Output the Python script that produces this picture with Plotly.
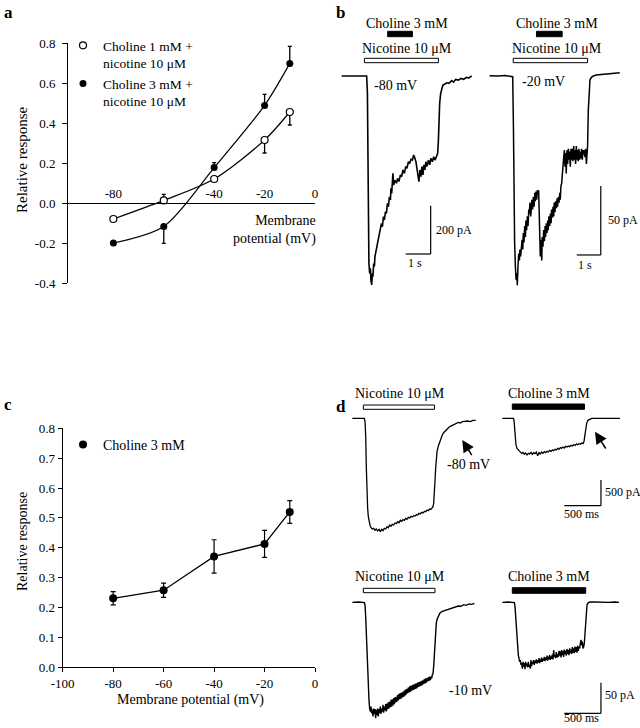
import plotly.graph_objects as go

FONT = "Liberation Serif"
W, H = 640, 728


def PX(x):
    return x / W


def PY(y):
    return 1 - y / H


# ---------------- Panel a data ----------------
a_mv = [-80, -60, -40, -20, -10]
a_cho1 = [-0.08, 0.013, 0.12, 0.315, 0.455]
a_cho1_err_plus = [0, 0.03, 0, 0, 0]
a_cho1_err_minus = [0, 0, 0, 0.065, 0.065]
a_cho3 = [-0.2, -0.117, 0.177, 0.488, 0.698]
a_cho3_err_plus = [0, 0, 0.025, 0.055, 0.085]
a_cho3_err_minus = [0, 0.085, 0, 0, 0]
a_xticks = [-80, -40, -20, 0]
a_xticklabels = ["-80", "-40", "-20", "0"]
a_yticks = [-0.4, -0.2, 0.0, 0.2, 0.4, 0.6, 0.8]
a_yticklabels = ["-0.4", "-0.2", "0.0", "0.2", "0.4", "0.6", "0.8"]
a_names = ["Choline 1 mM +<br>nicotine 10 μM", "Choline 3 mM +<br>nicotine 10 μM"]

# ---------------- Panel c data ----------------
c_mv = [-80, -60, -40, -20, -10]
c_resp = [0.231, 0.258, 0.371, 0.413, 0.52]
c_err = [0.022, 0.024, 0.056, 0.045, 0.038]
c_xticks = [-100, -80, -60, -40, -20, 0]
c_xticklabels = ["-100", "-80", "-60", "-40", "-20", "0"]
c_yticks = [0.0, 0.1, 0.2, 0.3, 0.4, 0.5, 0.6, 0.7, 0.8]
c_yticklabels = ["0.0", "0.1", "0.2", "0.3", "0.4", "0.5", "0.6", "0.7", "0.8"]

# ---------------- Panel b traces (time s, current pA) ----------------
b80_t = [0, 1.0, 1.03, 1.05, 1.08, 1.09, 1.12, 1.15, 1.17, 1.2,
         1.23, 1.25, 1.28, 1.31, 1.33, 1.37, 1.41, 1.47, 1.51, 1.55,
         1.59, 1.63, 1.67, 1.71, 1.75, 1.79, 1.83, 1.87, 1.91, 1.95,
         1.97, 2.0, 2.03, 2.05, 2.08, 2.13, 2.19, 2.24, 2.29, 2.35,
         2.4, 2.45, 2.51, 2.56, 2.61, 2.67, 2.72, 2.77, 2.83, 2.88,
         2.93, 2.97, 3.01, 3.05, 3.09, 3.13, 3.17, 3.21, 3.25, 3.29,
         3.33, 3.37, 3.41, 3.47, 3.52, 3.57, 3.63, 3.68, 3.73, 3.79,
         3.84, 3.87, 3.89, 3.92, 3.96, 4.0, 4.05, 4.13, 4.21, 4.29,
         4.4, 4.48, 4.56, 4.67, 4.77, 4.88, 4.99, 5.09, 5.2]
b80_i = [0, 0, -72, -348, -624, -776, -817, -796, -845, -865,
         -817, -831, -776, -789, -748, -727, -707, -679, -651, -638,
         -610, -624, -582, -596, -562, -569, -527, -541, -500, -513,
         -465, -486, -417, -403, -451, -431, -444, -424, -437, -410,
         -417, -389, -403, -375, -382, -355, -362, -345, -348, -327,
         -341, -355, -382, -403, -437, -389, -417, -375, -410, -368,
         -389, -355, -375, -348, -368, -341, -355, -334, -348, -334,
         -320, -265, -182, -113, -72, -51, -37, -33, -28, -30,
         -19, -25, -14, -17, -10, -14, -6, -8, 0]

b20_t = [0, 0.35, 0.63, 0.9, 0.96, 0.99, 1.01, 1.04, 1.07, 1.10,
         1.13, 1.15, 1.18, 1.21, 1.24, 1.26, 1.29, 1.32, 1.35, 1.38,
         1.40, 1.43, 1.46, 1.49, 1.51, 1.54, 1.57, 1.60, 1.63, 1.65,
         1.68, 1.71, 1.74, 1.76, 1.79, 1.82, 1.85, 1.88, 1.90, 1.93,
         1.96, 1.99, 2.01, 2.04, 2.06, 2.08, 2.11, 2.14, 2.17, 2.19,
         2.22, 2.25, 2.28, 2.31, 2.33, 2.36, 2.39, 2.42, 2.44, 2.47,
         2.50, 2.53, 2.56, 2.58, 2.61, 2.64, 2.67, 2.69, 2.72, 2.75,
         2.78, 2.81, 2.83, 2.86, 2.89, 2.92, 2.94, 2.97, 3.00, 3.03,
         3.06, 3.08, 3.11, 3.14, 3.17, 3.19, 3.22, 3.25, 3.28, 3.31,
         3.33, 3.36, 3.39, 3.42, 3.44, 3.47, 3.50, 3.53, 3.56, 3.58,
         3.61, 3.64, 3.67, 3.69, 3.72, 3.75, 3.78, 3.81, 3.83, 3.86,
         3.89, 3.92, 3.94, 3.97, 4.00, 4.03, 4.06, 4.08, 4.11, 4.14,
         4.18, 4.24, 4.32, 4.44, 4.58, 4.72, 4.86, 5.0, 5.14, 5.28,
         5.42]
b20_i = [0, -0.2, 0.2, -0.2, -0.7, -37, -85, -121, -138, -148,
         -143, -152, -138, -129, -134, -126, -131, -124, -119, -126,
         -114, -121, -109, -117, -105, -112, -102, -109, -97, -100,
         -92, -102, -95, -90, -97, -88, -95, -85, -91, -84,
         -90, -83, -85, -83, -97, -124, -131, -119, -134, -117,
         -124, -112, -120, -109, -117, -107, -114, -105, -112, -102,
         -109, -100, -107, -97, -103, -95, -102, -92, -99, -91,
         -96, -89, -95, -88, -92, -85, -90, -80, -78, -71,
         -66, -61, -54, -66, -56, -71, -54, -64, -53, -61,
         -55, -66, -53, -61, -53, -62, -51, -61, -54, -64,
         -51, -61, -54, -62, -53, -61, -55, -60, -53, -61,
         -54, -57, -54, -59, -53, -64, -57, -51, -25, -8,
         -3, -1.2, -0.2, 0.5, 0.7, 1.0, 1.2, 1.4, 1.7, 1.9,
         2.2]

# ---------------- Panel d traces (time s, current pA) ----------------
dn80_t = [0, 0.164, 0.173, 0.182, 0.191, 0.2, 0.209, 0.218, 0.227, 0.241,
          0.255, 0.273, 0.291, 0.309, 0.327, 0.345, 0.364, 0.382, 0.4, 0.418,
          0.436, 0.455, 0.473, 0.491, 0.509, 0.527, 0.545, 0.564, 0.582, 0.6,
          0.618, 0.636, 0.655, 0.673, 0.691, 0.709, 0.727, 0.745, 0.764, 0.782,
          0.8, 0.818, 0.836, 0.855, 0.873, 0.891, 0.909, 0.927, 0.945, 0.964,
          0.982, 1.0, 1.018, 1.036, 1.055, 1.073, 1.091, 1.1, 1.109, 1.118,
          1.127, 1.136, 1.145, 1.155, 1.173, 1.191, 1.209, 1.227, 1.245, 1.264,
          1.282, 1.3, 1.318, 1.336, 1.355, 1.373, 1.391, 1.409, 1.427, 1.445,
          1.473, 1.5, 1.536, 1.573, 1.609, 1.645, 1.682]
dn80_i = [0, 0, -65, -325, -975, -1495, -1755, -1918, -2015, -2080,
          -2132, -2158, -2145, -2184, -2158, -2197, -2165, -2210, -2165, -2191,
          -2145, -2158, -2113, -2132, -2080, -2106, -2067, -2080, -2041, -2054,
          -2015, -2035, -1989, -2009, -1976, -1989, -1950, -1970, -1931, -1944,
          -1911, -1924, -1898, -1905, -1879, -1885, -1853, -1866, -1833, -1846,
          -1814, -1820, -1788, -1801, -1768, -1775, -1742, -1723, -1658, -1495,
          -1235, -975, -780, -650, -540, -455, -390, -325, -280, -247,
          -221, -195, -176, -156, -143, -130, -104, -98, -91, -78,
          -91, -65, -59, -52, -65, -39, -39]

dc80_t = [0, 0.15, 0.159, 0.168, 0.177, 0.186, 0.2, 0.218, 0.241, 0.264,
          0.282, 0.3, 0.318, 0.336, 0.355, 0.373, 0.391, 0.409, 0.427, 0.445,
          0.464, 0.482, 0.5, 0.518, 0.536, 0.555, 0.573, 0.591, 0.609, 0.627,
          0.645, 0.664, 0.682, 0.7, 0.718, 0.736, 0.755, 0.773, 0.791, 0.809,
          0.827, 0.845, 0.864, 0.882, 0.9, 0.918, 0.936, 0.955, 0.973, 0.991,
          1.009, 1.027, 1.045, 1.064, 1.082, 1.1, 1.114, 1.123, 1.136, 1.15,
          1.168, 1.191, 1.218, 1.605]
dc80_i = [0, 0, -33, -195, -390, -520, -585, -624, -650, -683,
          -663, -702, -676, -715, -683, -696, -663, -702, -670, -689,
          -657, -728, -670, -696, -657, -683, -650, -670, -644, -657,
          -624, -644, -618, -631, -605, -618, -585, -605, -572, -585,
          -559, -579, -546, -559, -540, -553, -527, -540, -514, -527,
          -501, -514, -494, -507, -481, -494, -455, -358, -195, -98,
          -39, -13, 0, 0]

dn10_t = [0, 0.082, 0.164, 0.173, 0.182, 0.191, 0.2, 0.209, 0.218, 0.227,
          0.236, 0.245, 0.255, 0.264, 0.273, 0.282, 0.291, 0.3, 0.309, 0.318,
          0.327, 0.336, 0.345, 0.355, 0.364, 0.373, 0.382, 0.391, 0.4, 0.409,
          0.418, 0.427, 0.436, 0.445, 0.455, 0.464, 0.473, 0.482, 0.491, 0.5,
          0.509, 0.518, 0.527, 0.536, 0.545, 0.555, 0.564, 0.573, 0.582, 0.591,
          0.6, 0.609, 0.618, 0.627, 0.636, 0.645, 0.655, 0.664, 0.673, 0.682,
          0.691, 0.7, 0.709, 0.718, 0.727, 0.736, 0.745, 0.755, 0.764, 0.773,
          0.782, 0.791, 0.8, 0.809, 0.818, 0.827, 0.836, 0.845, 0.855, 0.864,
          0.873, 0.882, 0.891, 0.9, 0.909, 0.918, 0.927, 0.936, 0.945, 0.955,
          0.964, 0.973, 0.982, 0.991, 1.0, 1.009, 1.018, 1.027, 1.036, 1.045,
          1.055, 1.064, 1.073, 1.082, 1.091, 1.1, 1.109, 1.118, 1.127, 1.136,
          1.145, 1.155, 1.173, 1.191, 1.218, 1.245, 1.273, 1.3, 1.336, 1.373,
          1.409, 1.445, 1.482, 1.518, 1.555, 1.591, 1.627, 1.664]
dn10_i = [0, 0.5, -0.5, -4.3, -23, -56, -94, -127, -148, -159,
          -173, -178, -170, -181, -175, -186, -173, -182, -174, -189,
          -175, -184, -173, -186, -174, -180, -170, -182, -173, -178,
          -167, -180, -170, -176, -166, -178, -165, -174, -163, -173,
          -162, -171, -159, -170, -158, -168, -156, -166, -155, -163,
          -154, -162, -151, -160, -149, -158, -148, -157, -147, -155,
          -146, -154, -144, -152, -142, -150, -141, -148, -139, -147,
          -137, -146, -136, -144, -135, -143, -134, -142, -133, -141,
          -132, -140, -131, -138, -130, -137, -129, -136, -128, -135,
          -127, -133, -125, -132, -124, -131, -124, -129, -122, -128,
          -121, -127, -121, -124, -118, -116, -105, -83, -61, -45,
          -34, -28, -21, -18, -15, -14, -12, -11, -10, -9,
          -7, -6, -6.5, -3.8, -4.9, -2.7, -3.3, -1.6]

dc10_t = [0, 0.082, 0.164, 0.173, 0.182, 0.191, 0.2, 0.209, 0.218, 0.227,
          0.236, 0.245, 0.255, 0.264, 0.273, 0.282, 0.291, 0.3, 0.309, 0.318,
          0.327, 0.336, 0.345, 0.355, 0.364, 0.373, 0.382, 0.391, 0.4, 0.409,
          0.418, 0.427, 0.436, 0.445, 0.455, 0.464, 0.473, 0.482, 0.491, 0.5,
          0.509, 0.518, 0.527, 0.536, 0.545, 0.555, 0.564, 0.573, 0.582, 0.591,
          0.6, 0.609, 0.618, 0.627, 0.636, 0.645, 0.655, 0.664, 0.673, 0.682,
          0.691, 0.7, 0.709, 0.718, 0.727, 0.736, 0.745, 0.755, 0.764, 0.773,
          0.782, 0.791, 0.8, 0.809, 0.818, 0.827, 0.836, 0.845, 0.855, 0.864,
          0.873, 0.882, 0.891, 0.9, 0.909, 0.918, 0.927, 0.936, 0.945, 0.955,
          0.964, 0.973, 0.982, 0.991, 1.0, 1.009, 1.018, 1.027, 1.036, 1.045,
          1.055, 1.064, 1.073, 1.082, 1.091, 1.1, 1.109, 1.118, 1.127, 1.136,
          1.145, 1.155, 1.173, 1.2, 1.264, 1.355, 1.445, 1.536, 1.591]
dc10_i = [0, 0.5, -0.5, -7, -23, -45, -67, -78, -86, -91,
          -97, -94, -102, -99, -108, -97, -105, -99, -109, -97,
          -104, -100, -106, -97, -105, -102, -108, -94, -104, -97,
          -100, -94, -102, -95, -99, -93, -100, -94, -98, -91,
          -99, -93, -97, -90, -97, -92, -95, -89, -96, -90,
          -94, -87, -95, -89, -93, -86, -94, -88, -92, -85,
          -93, -78, -89, -86, -91, -81, -90, -84, -89, -79,
          -87, -80, -90, -78, -86, -80, -89, -77, -85, -79,
          -87, -76, -84, -78, -86, -75, -83, -77, -84, -73,
          -82, -75, -83, -72, -81, -73, -82, -71, -79, -72,
          -75, -67, -61, -70, -64, -75, -73, -67, -50, -29,
          -12, -4, -0.5, 0.5, 0.5, 0, 0, 0.5, 0]

# drug application intervals (s)
b80_nic = [0.91, 3.87]
b80_cho = [1.84, 2.83]
b20_nic = [0.98, 4.08]
b20_cho = [1.95, 3.02]
dn80_nic = [0.15, 1.12]
dc80_cho = [0.136, 1.12]
dn10_nic = [0.15, 1.127]
dc10_cho = [0.136, 1.137]

for a, b in [(b80_t, b80_i), (b20_t, b20_i), (dn80_t, dn80_i), (dc80_t, dc80_i),
             (dn10_t, dn10_i), (dc10_t, dc10_i)]:
    assert len(a) == len(b), (len(a), len(b))

fig = go.Figure()
layout = dict(
    width=W, height=H, autosize=False,
    margin=dict(l=0, r=0, t=0, b=0, pad=0, autoexpand=False),
    paper_bgcolor="white", plot_bgcolor="rgba(0,0,0,0)",
    font=dict(family=FONT, size=14, color="black"),
    showlegend=True,
)
annotations = []
shapes = []


def txt(text, x, y, size=14, xanchor="center", yanchor="middle", **kw):
    annotations.append(dict(text=text, x=PX(x), y=PY(y), xref="paper", yref="paper",
                            showarrow=False, xanchor=xanchor, yanchor=yanchor,
                            font=dict(family=FONT, size=size, color="black"), **kw))


# ---------------- Panel a ----------------
layout["xaxis"] = dict(domain=[PX(68), PX(315)], range=[-98, 0], anchor="free",
                       position=PY(203), side="top", showline=True, linecolor="black",
                       linewidth=1, ticks="", tickvals=a_xticks, ticktext=a_xticklabels,
                       tickfont=dict(family=FONT, size=13), showgrid=False, zeroline=False)
layout["yaxis"] = dict(domain=[PY(283), PY(43)], range=[-0.4, 0.8], anchor="x",
                       showline=True, linecolor="black", linewidth=1, ticks="outside",
                       ticklen=5, tickcolor="black", tickvals=a_yticks, ticktext=a_yticklabels,
                       tickfont=dict(family=FONT, size=13), showgrid=False, zeroline=False,
                       ticklabelstandoff=4)

fig.add_trace(go.Scatter(
    x=a_mv, y=a_cho3, mode="lines+markers", xaxis="x", yaxis="y", showlegend=False,
    line=dict(color="black", width=1.2, shape="spline", smoothing=0.8),
    marker=dict(symbol="circle", size=7, color="black"),
    error_y=dict(type="data", symmetric=False, array=a_cho3_err_plus,
                 arrayminus=a_cho3_err_minus, color="black", thickness=1.3, width=2)))
fig.add_trace(go.Scatter(
    x=a_mv, y=a_cho1, mode="lines+markers", xaxis="x", yaxis="y", showlegend=False,
    line=dict(color="black", width=1.2, shape="spline", smoothing=0.8),
    marker=dict(symbol="circle", size=7, color="white", line=dict(color="black", width=1.2)),
    error_y=dict(type="data", symmetric=False, array=a_cho1_err_plus,
                 arrayminus=a_cho1_err_minus, color="black", thickness=1.3, width=2)))
fig.add_trace(go.Scatter(x=[None], y=[None], mode="markers", name=a_names[0], legend="legend",
                         marker=dict(symbol="circle", size=7, color="white",
                                     line=dict(color="black", width=1.2))))
fig.add_trace(go.Scatter(x=[None], y=[None], mode="markers", name=a_names[1], legend="legend",
                         marker=dict(symbol="circle", size=7, color="black")))
layout["legend"] = dict(x=PX(63), y=PY(30), xanchor="left", yanchor="top",
                        bgcolor="rgba(0,0,0,0)", font=dict(family=FONT, size=13.5),
                        valign="top", itemwidth=30, tracegroupgap=0)
txt("Relative response", 22, 160, size=15, textangle=-90)
txt("Membrane<br>potential (mV)", 318, 230, xanchor="right", align="right")

# ---------------- Panel c ----------------
layout["xaxis2"] = dict(domain=[PX(62.7), PX(315)], range=[-100, 0], anchor="y2",
                        showline=True, linecolor="black", linewidth=1, ticks="outside",
                        ticklen=4, tickcolor="black", tickvals=c_xticks, ticktext=c_xticklabels,
                        tickfont=dict(family=FONT, size=13), showgrid=False, zeroline=False)
layout["yaxis2"] = dict(domain=[PY(667.3), PY(428.3)], range=[0, 0.8], anchor="x2",
                        showline=True, linecolor="black", linewidth=1, ticks="outside",
                        ticklen=4, tickcolor="black", tickvals=c_yticks, ticktext=c_yticklabels,
                        tickfont=dict(family=FONT, size=13), showgrid=False, zeroline=False)
fig.add_trace(go.Scatter(
    x=c_mv, y=c_resp, mode="lines+markers", xaxis="x2", yaxis="y2", showlegend=False,
    line=dict(color="black", width=1.3),
    marker=dict(symbol="circle", size=8, color="black"),
    error_y=dict(type="data", array=c_err, color="black", thickness=1.2, width=2.5)))
fig.add_trace(go.Scatter(x=[None], y=[None], mode="markers", name="Choline 3 mM",
                         legend="legend2", xaxis="x2", yaxis="y2",
                         marker=dict(symbol="circle", size=8, color="black")))
layout["legend2"] = dict(x=PX(63), y=PY(429), xanchor="left", yanchor="top",
                         bgcolor="rgba(0,0,0,0)", font=dict(family=FONT, size=14),
                         itemwidth=30)
txt("Relative response", 22, 542, size=14, textangle=-90)
txt("Membrane potential (mV)", 190.5, 700)


# ---------------- trace panels ----------------
def trace_axes(n, box, t0_px, px_per_s, base_py, pa_per_px):
    x0, x1, y0, y1 = box
    layout[f"xaxis{n}"] = dict(domain=[PX(x0), PX(x1)],
                               range=[(x0 - t0_px) / px_per_s, (x1 - t0_px) / px_per_s],
                               visible=False, anchor=f"y{n}")
    layout[f"yaxis{n}"] = dict(domain=[PY(y1), PY(y0)],
                               range=[-(y1 - base_py) * pa_per_px, (base_py - y0) * pa_per_px],
                               visible=False, anchor=f"x{n}")


def add_trace(n, t, i, width=1.3):
    fig.add_trace(go.Scatter(x=t, y=i, mode="lines", xaxis=f"x{n}", yaxis=f"y{n}",
                             showlegend=False, line=dict(color="black", width=width),
                             hoverinfo="skip"))


def drug_bar(n, interval, ytop, ybot, filled):
    shapes.append(dict(type="rect", xref=f"x{n}", yref="paper",
                       x0=interval[0], x1=interval[1], y0=PY(ybot), y1=PY(ytop),
                       line=dict(color="black", width=1),
                       fillcolor="black" if filled else "white"))


def scale_bar(n, t_end, dur, i_bot, amp):
    shapes.append(dict(type="line", xref=f"x{n}", yref=f"y{n}", x0=t_end - dur, x1=t_end,
                       y0=i_bot, y1=i_bot, line=dict(color="black", width=1.2)))
    shapes.append(dict(type="line", xref=f"x{n}", yref=f"y{n}", x0=t_end, x1=t_end,
                       y0=i_bot, y1=i_bot + amp, line=dict(color="black", width=1.2)))


# b left (-80 mV)
trace_axes(3, (338, 480, 25, 295), 341.67, 25.0, 76.0, 4.14)
add_trace(3, b80_t, b80_i, 1.6)
drug_bar(3, b80_nic, 58.3, 62.7, False)
drug_bar(3, b80_cho, 31.3, 36.7, True)
scale_bar(3, 3.56, 1.0, -737, 200)
txt("Choline 3 mM", 406.7, 23.3)
txt("Nicotine 10 μM", 407, 49)
txt("-80 mV", 372.3, 85, xanchor="left")
txt("200 pA", 433.5, 230, size=12, xanchor="left")
txt("1 s", 415, 263, size=12)

# b right (-20 mV)
trace_axes(4, (482, 632, 25, 295), 489.67, 24.0, 75.67, 0.725)
add_trace(4, b20_t, b20_i, 1.5)
drug_bar(4, b20_nic, 58.3, 62.7, False)
drug_bar(4, b20_cho, 31.3, 36.7, True)
scale_bar(4, 4.63, 1.0, -130, 50)
txt("Choline 3 mM", 556.7, 23.3)
txt("Nicotine 10 μM", 556.7, 49)
txt("-20 mV", 520, 81.7, xanchor="left")
txt("50 pA", 605.5, 220, size=12, xanchor="left")
txt("1 s", 585, 265, size=12)

# d top-left (nicotine, -80 mV)
trace_axes(5, (345, 490, 398, 545), 352.33, 73.33, 418.33, 19.5)
add_trace(5, dn80_t, dn80_i, 1.3)
drug_bar(5, dn80_nic, 405, 409.3, False)
txt("Nicotine 10 μM", 400, 393.3)
txt("-80 mV", 445, 465, xanchor="left")

# d top-right (choline, -80 mV)
trace_axes(6, (495, 640, 398, 545), 502.33, 73.33, 418.33, 19.5)
add_trace(6, dc80_t, dc80_i, 1.3)
drug_bar(6, dc80_cho, 404, 409.3, True)
scale_bar(6, 1.345, 0.5, -1704, 500)
txt("Choline 3 mM", 549, 393.3)
txt("500 pA", 603.3, 492.3, size=12, xanchor="left")
txt("500 ms", 581.7, 514.3, size=12)

# d bottom-left (nicotine, -10 mV)
trace_axes(7, (345, 490, 580, 728), 352.33, 73.33, 602.33, 1.63)
add_trace(7, dn10_t, dn10_i, 1.4)
drug_bar(7, dn10_nic, 588.3, 592.7, False)
txt("Nicotine 10 μM", 400, 576.7)
txt("-10 mV", 446.7, 690, xanchor="left")

# d bottom-right (choline, -10 mV)
trace_axes(8, (495, 640, 580, 728), 502.33, 73.33, 602.33, 1.63)
add_trace(8, dc10_t, dc10_i, 1.4)
drug_bar(8, dc10_cho, 587.7, 593.3, True)
scale_bar(8, 1.345, 0.5, -180.9, 50)
txt("Choline 3 mM", 549, 576.7)
txt("50 pA", 603.3, 695, size=12, xanchor="left")
txt("500 ms", 581.7, 717.5, size=12)

# arrows in panel d
for hx, hy, tx, ty in [(462.3, 440, 472.7, 456.7), (595, 431.7, 606.7, 450)]:
    annotations.append(dict(x=PX(hx), y=PY(hy), xref="paper", yref="paper", text="",
                            showarrow=True, ax=tx - hx, ay=ty - hy, arrowhead=2,
                            arrowsize=1.6, arrowwidth=1.5, arrowcolor="black",
                            standoff=0, startstandoff=0))

# panel letters
txt("<b>a</b>", 8, 12.5, size=17)
txt("<b>b</b>", 340, 12.5, size=17)
txt("<b>c</b>", 8, 404, size=17)
txt("<b>d</b>", 341, 406, size=17)

layout["annotations"] = annotations
layout["shapes"] = shapes
fig.update_layout(**layout)
fig.write_html(
    "out.html",
    config={"responsive": False, "displayModeBar": False},
    post_script="document.body.style.margin='0px';document.body.style.padding='0px';"
                "document.documentElement.style.overflow='hidden';",
)
